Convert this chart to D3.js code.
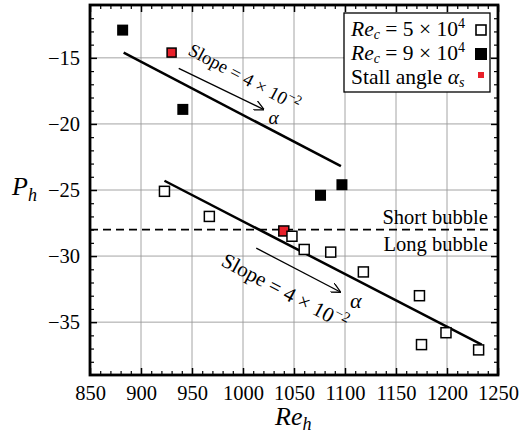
<!DOCTYPE html>
<html>
<head>
<meta charset="utf-8">
<script src="https://cdn.jsdelivr.net/npm/d3@7"></script>
<style>
  body { margin: 0; background: #fff; }
</style>
</head>
<body>
<svg id="chart" width="520" height="438" font-family="'Liberation Serif', serif"></svg>
<script>
// Re_c = 5e4 (open squares)
const re5 = [923, 967, 1040, 1048, 1060, 1086, 1118, 1173, 1175, 1199, 1231];
const p5 = [-25.1, -27.0, -28.1, -28.5, -29.5, -29.7, -31.2, -33.0, -36.7, -35.8, -37.1];
const stall5 = 2;
// Re_c = 9e4 (filled squares)
const re9 = [882, 930, 941, 1076, 1097];
const p9 = [-12.9, -14.6, -18.9, -25.4, -24.6];
const stall9 = 1;
// fitted lines (slope 4e-2)
const fitHighX = [883, 1096], fitHighY = [-14.6, -23.2];
const fitLowX = [923, 1234], fitLowY = [-24.3, -36.7];
const bubbleLimit = -28;
const xTicks = [850, 900, 950, 1000, 1050, 1100, 1150, 1200, 1250];
const yTicks = [-35, -30, -25, -20, -15];

const svg = d3.select("#chart");
const x = d3.scaleLinear().domain([850, 1250]).range([90, 498]);
const y = d3.scaleLinear().domain([-39, -11]).range([375, 5]);
const fmt = d => d < 0 ? "\u2212" + Math.abs(d) : String(d);

// grid
svg.append("g").selectAll("line").data(xTicks.slice(1, -1)).join("line")
  .attr("x1", d => x(d)).attr("x2", d => x(d)).attr("y1", y(-39)).attr("y2", y(-11))
  .attr("stroke", "#9a9a9a").attr("stroke-width", 0.9);
svg.append("g").selectAll("line").data(yTicks).join("line")
  .attr("y1", d => y(d)).attr("y2", d => y(d)).attr("x1", x(850)).attr("x2", x(1250))
  .attr("stroke", "#9a9a9a").attr("stroke-width", 0.9);

// axes with inner ticks on all four sides
const xMinor = d3.range(860, 1250, 10).filter(d => d % 50 !== 0);
const yMinor = d3.range(-38, -11, 1).filter(d => d % 5 !== 0);

function drawAxis(gen, tr, major, minorVals, labels) {
  const g = svg.append("g").attr("transform", tr);
  g.call(gen.tickValues(major).tickFormat(fmt).tickSizeInner(-7).tickSizeOuter(0).tickPadding(10));
  g.select(".domain").remove();
  g.selectAll(".tick line").attr("stroke", "#000").attr("stroke-width", 1.5);
  g.selectAll(".tick text").attr("fill", "#000").style("font-size", "20.5px");
  if (!labels) g.selectAll(".tick text").remove();
  const m = svg.append("g").attr("transform", tr);
  m.call(gen.tickValues(minorVals).tickSizeInner(-4).tickFormat(""));
  m.select(".domain").remove();
  m.selectAll(".tick line").attr("stroke", "#000").attr("stroke-width", 1.2);
}
drawAxis(d3.axisBottom(x), `translate(0,${y(-39)})`, xTicks, xMinor, true);
drawAxis(d3.axisTop(x), `translate(0,${y(-11)})`, xTicks, xMinor, false);
drawAxis(d3.axisLeft(y), `translate(${x(850)},0)`, yTicks, yMinor, true);
drawAxis(d3.axisRight(y), `translate(${x(1250)},0)`, yTicks, yMinor, false);

svg.append("rect")
  .attr("x", x(850)).attr("y", y(-11))
  .attr("width", x(1250) - x(850)).attr("height", y(-39) - y(-11))
  .attr("fill", "none").attr("stroke", "#000").attr("stroke-width", 2.8);

// short / long bubble boundary
svg.append("line")
  .attr("x1", x(850)).attr("x2", x(1250)).attr("y1", y(bubbleLimit)).attr("y2", y(bubbleLimit))
  .attr("stroke", "#000").attr("stroke-width", 1.6).attr("stroke-dasharray", "8,5");
svg.append("text").attr("x", x(1240)).attr("y", y(bubbleLimit) - 6)
  .attr("text-anchor", "end").style("font-size", "20.5px").text("Short bubble");
svg.append("text").attr("x", x(1240)).attr("y", y(bubbleLimit) + 21)
  .attr("text-anchor", "end").style("font-size", "20.5px").text("Long bubble");

// fit lines
const line = d3.line().x(d => x(d[0])).y(d => y(d[1]));
svg.append("path").datum(d3.zip(fitHighX, fitHighY)).attr("d", line)
  .attr("stroke", "#000").attr("stroke-width", 2.5).attr("fill", "none");
svg.append("path").datum(d3.zip(fitLowX, fitLowY)).attr("d", line)
  .attr("stroke", "#000").attr("stroke-width", 2.5).attr("fill", "none");

// arrows + slope annotations
svg.append("defs").append("marker")
  .attr("id", "arr").attr("viewBox", "0 0 10 10").attr("refX", 9).attr("refY", 5)
  .attr("markerWidth", 10).attr("markerHeight", 10).attr("markerUnits", "userSpaceOnUse")
  .attr("orient", "auto")
  .append("path").attr("d", "M0,0 L10,5 L0,10").attr("fill", "none")
  .attr("stroke", "#000").attr("stroke-width", 1.3);

const arrows = [
  {x0: 937, y0: -15.8, x1: 1020, y1: -18.9, ax: 1025, ay: -20.0, tx: 187, ty: 54, fs: 18.5},
  {x0: 1013, y0: -29.4, x1: 1095, y1: -32.7, ax: 1105, ay: -33.9, tx: 220, ty: 265, fs: 21}
];
arrows.forEach(a => {
  svg.append("line")
    .attr("x1", x(a.x0)).attr("y1", y(a.y0)).attr("x2", x(a.x1)).attr("y2", y(a.y1))
    .attr("stroke", "#000").attr("stroke-width", 1.3).attr("marker-end", "url(#arr)");
  svg.append("text").attr("x", x(a.ax)).attr("y", y(a.ay))
    .style("font-size", (a.fs + 1) + "px").style("font-style", "italic").text("α");
  const t = svg.append("text")
    .attr("transform", `translate(${a.tx},${a.ty}) rotate(28)`)
    .style("font-size", a.fs + "px");
  t.append("tspan").text("Slope = 4 × 10");
  t.append("tspan").attr("dy", -a.fs * 0.4).style("font-size", (a.fs * 0.7) + "px").text("−2");
});

// data points
const pts5 = re5.map((v, i) => ({x: v, y: p5[i], stall: i === stall5}));
const pts9 = re9.map((v, i) => ({x: v, y: p9[i], stall: i === stall9}));
svg.append("g").selectAll("rect").data(pts5).join("rect")
  .attr("x", d => x(d.x) - 5).attr("y", d => y(d.y) - 5)
  .attr("width", 10).attr("height", 10)
  .attr("fill", d => d.stall ? "#e8202a" : "#fff")
  .attr("stroke", "#000").attr("stroke-width", 1.5);
svg.append("g").selectAll("rect").data(pts9).join("rect")
  .attr("x", d => x(d.x) - (d.stall ? 4.5 : 5.5)).attr("y", d => y(d.y) - (d.stall ? 4.5 : 5.5))
  .attr("width", d => d.stall ? 9 : 11).attr("height", d => d.stall ? 9 : 11)
  .attr("fill", d => d.stall ? "#e8202a" : "#000")
  .attr("stroke", "#000").attr("stroke-width", d => d.stall ? 1.5 : 0);

// legend
const lg = svg.append("g");
lg.append("rect").attr("x", 344).attr("y", 13).attr("width", 146).attr("height", 79)
  .attr("fill", "#fff").attr("stroke", "#000").attr("stroke-width", 1.3);
const legendRows = [
  {pre: "Re", sub: "c", txt: " = 5 × 10", sup: "4"},
  {pre: "Re", sub: "c", txt: " = 9 × 10", sup: "4"}
];
legendRows.forEach((r, i) => {
  const t = lg.append("text").attr("x", 351).attr("y", 36 + i * 24).style("font-size", "21.5px");
  t.append("tspan").style("font-style", "italic").text(r.pre);
  t.append("tspan").attr("dy", 3).style("font-style", "italic").style("font-size", "14px").text(r.sub);
  t.append("tspan").attr("dy", -3).text(r.txt);
  t.append("tspan").attr("dy", -8).style("font-size", "14px").text(r.sup);
});
const t3 = lg.append("text").attr("x", 351).attr("y", 84).style("font-size", "21.5px");
t3.append("tspan").text("Stall angle ");
t3.append("tspan").style("font-style", "italic").text("α");
t3.append("tspan").attr("dy", 3).style("font-style", "italic").style("font-size", "14px").text("s");
lg.append("rect").attr("x", 476).attr("y", 25).attr("width", 10).attr("height", 10)
  .attr("fill", "#fff").attr("stroke", "#000").attr("stroke-width", 1.6);
lg.append("rect").attr("x", 475).attr("y", 48).attr("width", 12).attr("height", 12).attr("fill", "#000");
lg.append("rect").attr("x", 478).attr("y", 72).attr("width", 6).attr("height", 6).attr("fill", "#e8202a");

// axis titles
const yl = svg.append("text").attr("x", 12).attr("y", 195).style("font-size", "26px").style("font-style", "italic");
yl.append("tspan").text("P");
yl.append("tspan").attr("dy", 6).style("font-size", "18px").text("h");
const xl = svg.append("text").attr("x", 275).attr("y", 425).style("font-size", "26px").style("font-style", "italic");
xl.append("tspan").text("Re");
xl.append("tspan").attr("dy", 5).style("font-size", "18px").text("h");

// axis groups carry their own family, so set the serif face on every label
svg.selectAll("text").style("font-family", "'Liberation Serif', serif");
</script>
</body>
</html>
